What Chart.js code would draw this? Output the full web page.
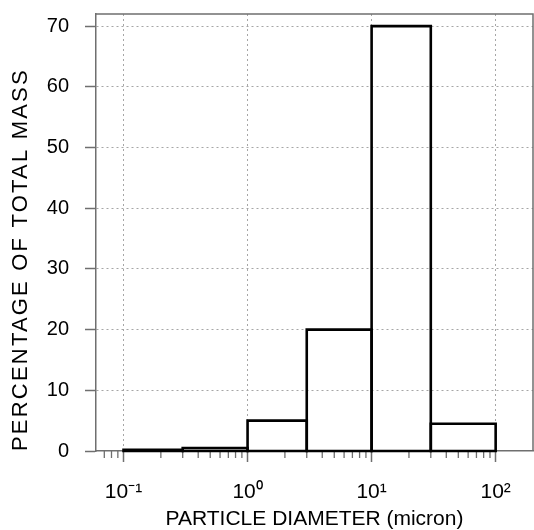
<!DOCTYPE html>
<html><head><meta charset="utf-8">
<script src="https://cdn.jsdelivr.net/npm/chart.js@4.4.1/dist/chart.umd.min.js"></script>
<style>html,body{margin:0;padding:0;background:#fff;overflow:hidden}</style>
</head><body>
<canvas id="c" width="534" height="530" style="display:block;width:534px;height:530px"></canvas>
<script>
// ---- data ----
const binEdges = [0.1, 0.3, 1, 3, 10, 30, 100];          // micron
const massPercent = [0.2, 0.5, 5, 20, 70, 4.5];          // % of total mass
const xMajorTicks = [0.1, 1, 10, 100];
const xMajorLabels = ['10⁻¹', '10⁰', '10¹', '10²'];
const xMinorMultiples = [2, 3, 4, 5, 6, 7, 8, 9];
const yTicks = [0, 10, 20, 30, 40, 50, 60, 70];
const xTitle = 'PARTICLE DIAMETER (micron)';
const yTitle = 'PERCENTAGE OF TOTAL MASS';

const FONT = 'Liberation Sans';
const AXIS = '#6f6f6f';
const GRID = '#a6a6a6';
const X_MIN = 0.06, X_MAX = 200;

function isMajor(v) {
  const l = Math.log10(v);
  return Math.abs(l - Math.round(l)) < 1e-9;
}

function buildXTicks() {
  const list = [];
  [0.01].concat(xMajorTicks).forEach(d => {
    if (d >= X_MIN && d <= X_MAX) list.push({value: d, major: true});
    xMinorMultiples.forEach(k => {
      const v = +(k * d).toPrecision(6);
      if (v > X_MIN * 1.001 && v < 100.001 && v <= X_MAX) list.push({value: v, major: false});
    });
  });
  return list.sort((a, b) => a.value - b.value);
}

const datasets = massPercent.map((v, i) => ({
  data: [
    {x: binEdges[i], y: 0}, {x: binEdges[i], y: v},
    {x: binEdges[i + 1], y: v}, {x: binEdges[i + 1], y: 0},
    {x: binEdges[i], y: 0}
  ],
  borderColor: '#000', borderWidth: 2.6, pointRadius: 0, fill: false,
  tension: 0, clip: false, borderJoinStyle: 'miter', borderCapStyle: 'square'
}));

const framePlugin = {
  id: 'frame',
  beforeDraw(chart) {
    const s = chart.scales.y;
    if (!s._lsPatched) {
      const orig = s.drawTitle;
      s.drawTitle = function () {
        const c = this.ctx; c.save(); c.letterSpacing = '2.2px'; orig.call(this); c.restore();
      };
      s._lsPatched = true;
    }
  },
  beforeDatasetsDraw(chart) {
    const {ctx, chartArea: a} = chart;
    ctx.save();
    ctx.strokeStyle = AXIS; ctx.lineWidth = 1.5;
    ctx.beginPath();
    ctx.moveTo(a.left, a.top); ctx.lineTo(a.right, a.top); ctx.lineTo(a.right, a.bottom);
    ctx.stroke();
    // minor x ticks (shorter than the major ones)
    const xs = chart.scales.x;
    ctx.lineWidth = 1.3;
    xs.ticks.forEach(t => {
      if (isMajor(t.value)) return;
      const px = xs.getPixelForValue(t.value);
      if (px < a.left + 2 || px > a.right - 2) return;
      ctx.beginPath(); ctx.moveTo(px, a.bottom); ctx.lineTo(px, a.bottom + 7); ctx.stroke();
    });
    ctx.restore();
  }
};

new Chart(document.getElementById('c'), {
  type: 'line',
  data: {datasets},
  plugins: [framePlugin],
  options: {
    responsive: false, animation: false, devicePixelRatio: 1,
    layout: {padding: {top: 14, right: 1, left: 0, bottom: 0}},
    plugins: {legend: {display: false}, tooltip: {enabled: false}},
    scales: {
      x: {
        type: 'logarithmic', min: X_MIN, max: X_MAX, position: 'bottom',
        afterBuildTicks(s) { s.ticks = buildXTicks(); },
        afterFit(s) { s.height = 79; s.paddingLeft = 0; s.paddingRight = 0; },
        grid: {
          color: c => (c.tick && isMajor(c.tick.value)) ? GRID : 'rgba(0,0,0,0)',
          lineWidth: 1, tickLength: 11,
          tickColor: c => (c.tick && isMajor(c.tick.value)) ? AXIS : 'rgba(0,0,0,0)',
          tickWidth: 1.5
        },
        border: {display: true, color: AXIS, width: 1.5, dash: [2, 3]},
        ticks: {
          autoSkip: false, maxRotation: 0, minRotation: 0, padding: 18,
          color: '#000', font: {family: FONT, size: 21},
          callback: v => { const i = xMajorTicks.findIndex(m => Math.abs(m - v) < 1e-9 * m); return i >= 0 ? xMajorLabels[i] : ''; }
        },
        title: {display: true, text: xTitle, color: '#000',
          font: {family: FONT, size: 21, lineHeight: 1}, padding: {top: 0, bottom: 0}}
      },
      y: {
        min: 0, max: 72,
        afterFit(s) { s.width = 96; s.paddingTop = 0; s.paddingBottom = 0; },
        afterBuildTicks(s) { s.ticks = yTicks.map(v => ({value: v})); },
        grid: {
          color: c => (c.tick && c.tick.value === 0) ? 'rgba(0,0,0,0)' : GRID,
          lineWidth: 1, tickLength: 11, tickColor: AXIS, tickWidth: 1.5
        },
        border: {display: true, color: AXIS, width: 1.5, dash: [2, 3]},
        ticks: {padding: 16, color: '#000', font: {family: FONT, size: 20}},
        title: {display: true, text: yTitle, align: 'start', color: '#000',
          font: {family: FONT, size: 22, lineHeight: 1}, padding: {top: 10, bottom: 0}}
      }
    }
  }
});
</script>
</body></html>
